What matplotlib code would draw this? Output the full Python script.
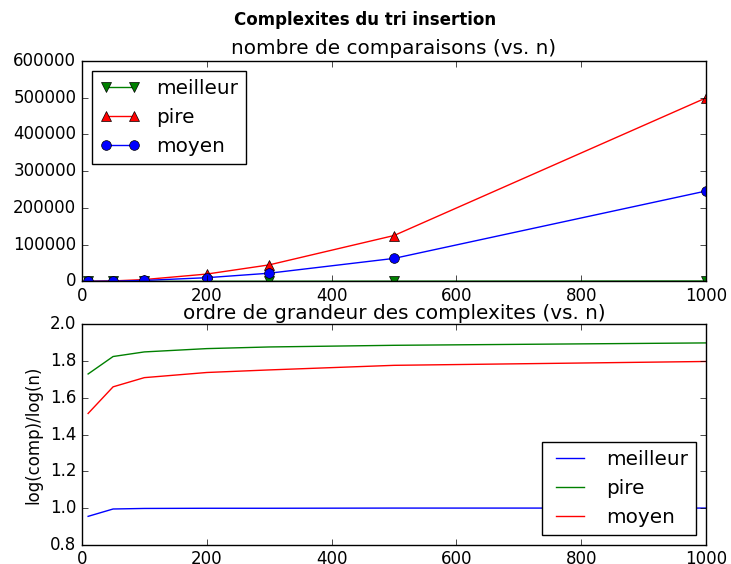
import matplotlib
matplotlib.use("Agg")
from matplotlib import pyplot as plt

plt.style.use('classic')

# tailles testees
n = [10, 50, 100, 200, 300, 500, 1000]

# nombre de comparaisons
comp_meilleur = [9, 49, 99, 199, 299, 499, 999]
comp_pire = [45, 1225, 4950, 19900, 44850, 124750, 499500]
comp_moyen = [27, 640, 2550, 10000, 22200, 62500, 246000]

# log(comp)/log(n)
ordre_meilleur = [0.955, 0.995, 0.998, 0.999, 0.999, 1.0, 1.0]
ordre_pire = [1.73, 1.825, 1.85, 1.868, 1.877, 1.886, 1.899]
ordre_moyen = [1.515, 1.66, 1.71, 1.738, 1.752, 1.777, 1.798]

fig = plt.figure(figsize=(7.31, 5.64), dpi=100)
fig.subplots_adjust(left=0.112, right=0.966, top=0.892, bottom=0.034, hspace=0.195)
fig.suptitle('Complexites du tri insertion', fontsize=12, fontweight='bold', y=0.98)

ax1 = fig.add_subplot(211)
ax1.plot(n, comp_meilleur, 'g-v', ms=7, label='meilleur')
ax1.plot(n, comp_pire, 'r-^', ms=7, label='pire')
ax1.plot(n, comp_moyen, 'b-o', ms=7, label='moyen')
ax1.set_title('nombre de comparaisons (vs. n)', fontsize=14.4)
ax1.set_ylim(0, 600000)
ax1.set_xlim(0, 1000)
ax1.legend(loc='upper left')

ax2 = fig.add_subplot(212)
ax2.plot(n, ordre_meilleur, 'b-', label='meilleur')
ax2.plot(n, ordre_pire, 'g-', label='pire')
ax2.plot(n, ordre_moyen, 'r-', label='moyen')
ax2.set_title('ordre de grandeur des complexites (vs. n)', fontsize=14.4, pad=4)
ax2.set_ylabel('log(comp)/log(n)')
ax2.set_ylim(0.8, 2.0)
ax2.set_xlim(0, 1000)
ax2.legend(loc='lower right')

fig.savefig('out.png', dpi=100)
